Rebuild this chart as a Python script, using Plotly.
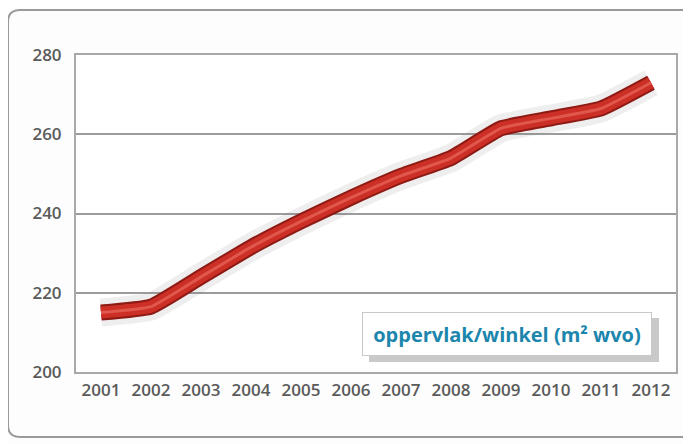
import plotly.graph_objects as go

years = ["2001", "2002", "2003", "2004", "2005", "2006", "2007", "2008", "2009", "2010", "2011", "2012"]
oppervlak = [215, 216.5, 224, 231.5, 238, 244, 249.5, 254, 261.5, 264, 266.5, 273]
y_ticks = [200, 220, 240, 260, 280]
legend_label = "oppervlak/winkel (m² wvo)"

OFF = 8  # page body margin
W, H = 691 - OFF, 444 - OFF
L, T = 76 - OFF, 55 - OFF
R = 15
B = H - (372 - OFF)
pw, ph = W - L - R, H - T - B

def px(x):
    return (x - OFF - L) / pw

def py(y):
    return (H - B - (y - OFF)) / ph

SM = dict(shape="spline", smoothing=0.4)
fig = go.Figure()
fig.add_trace(go.Scatter(x=years, y=oppervlak, mode="lines",
                         line=dict(color="rgba(120,120,120,0.13)", width=28, **SM),
                         hoverinfo="skip", showlegend=False))
fig.add_trace(go.Scatter(x=years, y=oppervlak, mode="lines",
                         line=dict(color="#8e1a14", width=16, **SM),
                         hoverinfo="skip", showlegend=False))
fig.add_trace(go.Scatter(x=years, y=oppervlak, mode="lines",
                         line=dict(color="#cc2f26", width=12, **SM),
                         hoverinfo="skip", showlegend=False))
fig.add_trace(go.Scatter(x=years, y=oppervlak, mode="lines", name=legend_label,
                         line=dict(color="#e0574b", width=3, **SM),
                         showlegend=False))

shapes = [
    dict(type="path", xref="paper", yref="paper",
         path=f"M {px(720)},{py(10)} L {px(20)},{py(10)} Q {px(8)},{py(10)} {px(8)},{py(22)} "
              f"L {px(8)},{py(425)} Q {px(8)},{py(437)} {px(20)},{py(437)} L {px(720)},{py(437)}",
         line=dict(color="#9a9a9a", width=2), layer="below"),
    dict(type="rect", xref="paper", yref="paper",
         x0=px(369), x1=px(659), y0=py(318), y1=py(362),
         fillcolor="rgba(90,90,90,0.33)", line=dict(width=0), layer="above"),
]

fig.update_layout(
    width=W, height=H,
    margin=dict(l=L, r=R, t=T, b=B),
    paper_bgcolor="#fdfdfd",
    plot_bgcolor="#ffffff",
    showlegend=False,
    shapes=shapes,
    annotations=[dict(
        x=px(507), y=py(333.5), xref="paper", yref="paper",
        text=f"<b>{legend_label}</b>", showarrow=False,
        font=dict(family="Open Sans", size=20, color="#1c86ad"),
        bgcolor="#ffffff", bordercolor="#c8c8c8", borderwidth=1,
        width=286, height=40, xanchor="center", yanchor="middle",
    )],
)
tf = dict(family="Open Sans", size=17, color="#5a5a5a", weight=600)
fig.update_xaxes(type="category", range=[-0.5, 11.5], showgrid=False,
                 showline=True, linecolor="#a8a8a8", linewidth=2, mirror=True,
                 ticks="", ticklabelstandoff=2, tickfont=tf)
fig.update_yaxes(range=[200, 280], tickvals=y_ticks, showgrid=True,
                 gridcolor="#9c9c9c", gridwidth=1.5, zeroline=False,
                 showline=True, linecolor="#a8a8a8", linewidth=2, mirror=True,
                 ticks="", ticklabelstandoff=9, tickfont=tf)

fig.write_html("out.html")
